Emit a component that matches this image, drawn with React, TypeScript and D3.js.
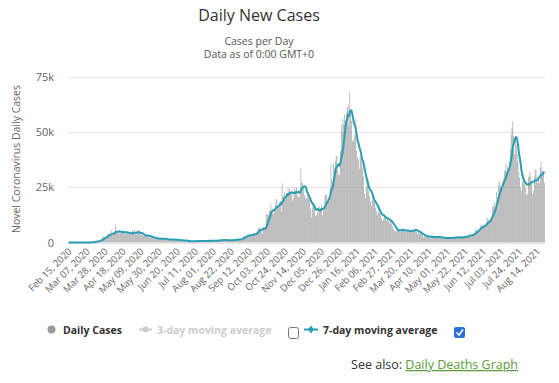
import React from 'react';
import * as d3 from 'd3';

// Daily new cases, Feb 15 2020 -> Aug 23 2021 (one array per month)
const feb2020 = [0,0,0,0,0,0,0,0,4,0,0,0,2,4,3];
const mar2020 = [3,13,11,34,30,48,43,67,48,46,50,52,207,264,330,152,407,676,643,714,1035,665,967,1427,1452,2129,2885,2546,2433,2619,3009];
const apr2020 = [3980,3900,4090,3440,5430,3500,3340,5050,4000,7990,4810,4860,3990,4830,4230,4250,5150,5080,5380,4300,3960,4100,4220,4960,4520,4110,3960,3680,3750,5550];
const may2020 = [4420,5700,3990,3670,4050,5620,5160,4280,3580,3570,3130,2980,3170,3280,2980,3170,3280,3250,2470,2220,2270,2410,2720,2210,1500,1840,1850,1740,1930,1780,1440];
const jun2020 = [1653,1871,1805,1650,1557,1650,1326,1205,1741,1003,1266,1541,1425,1514,1056,1279,1115,1218,1346,1295,1221,958,874,653,1118,1380,890,901,815,689];
const jul2020 = [829,576,544,624,516,352,581,630,512,642,820,650,530,650,538,687,827,762,580,445,798,560,769,688,767,1062,685,581,763,846,880];
const aug2020 = [744,758,743,893,950,871,758,1062,938,1148,1009,1441,1009,1218,1012,1040,713,1089,812,1182,1033,1288,1041,853,1184,1048,1522,1276,1108,1715,1406];
const sep2020 = [1295,1508,1735,1813,1940,2988,2948,2420,2659,3539,3497,3330,3497,3330,2621,3991,3395,4322,4422,3899,4368,4926,6178,6634,6874,6042,5693,4044,7143,7108];
const oct2020 = [6914,7143,12872,12594,12594,14542,14162,17540,13864,15166,12872,13972,17234,19724,18980,15650,16171,16982,18804,13883,26688,21242,20530,23012,19790,20890,20890,24701,23065,24405,21915];
const nov2020 = [23254,18950,20018,25177,24141,23287,24957,21350,20572,20412,22950,33470,27301,26860,24962,21363,20051,20207,19609,22915,20252,19875,15450,11299,15450,18213,17555,16022,12155,12330];
const dec2020 = [13430,16170,14879,16298,15539,17272,12282,14718,16578,20964,21672,21502,18447,20263,18450,25161,35383,28507,27052,35928,33364,36804,39237,39036,32725,30501,30501,41385,53135,50023,55892];
const jan2021 = [53285,57725,54990,58784,60916,62322,52618,68053,59937,54940,46169,45533,47525,48682,55761,41346,38598,37535,33355,38905,37892,40261,33552,30004,22195,20089,25308,28680,29079,23275,21088];
const feb2021 = [18607,16840,19202,20634,19114,18262,15845,14104,12364,13494,15144,13308,13308,10972,9765,10625,12718,12057,10406,9834,10641,9985,8489,9938,9985,8523,7434,6035];
const mar2021 = [5455,4712,5766,6573,6040,5177,5177,4712,5766,5926,6609,5534,5089,4618,5089,5294,5758,5303,4802,5303,5312,5342,5379,5605,6397,6187,4715,3862,4654,4040,4052];
const apr2021 = [4478,3402,3423,2297,2762,2379,3150,2589,3030,2874,2472,1730,2963,2491,2812,2596,2206,1882,2524,2729,2396,2678,2615,2061,1712,1946,2064,2166,2445,2381];
const may2021 = [1907,1649,1671,2357,2166,2490,2047,1770,1979,2613,2284,2657,2672,2193,1926,2027,1979,2412,2696,2874,2829,2235,1968,3240,2439,3180,3542,4182,3398,3240,3165];
const jun2021 = [3383,4330,5274,6238,5765,5341,5683,6048,7540,7393,8125,7738,7490,7673,7673,9055,11007,10476,10321,9284,10633,11625,16135,16703,15810,18270,14876,22868,20479,25606];
const jul2021 = [27989,27125,24885,24248,27334,28773,32548,32551,35707,31772,34471,31772,36660,42302,48553,51870,54674,48161,39950,46558,44104,39906,36389,31795,29173,24950,23511,27734,31117,29622,26144];
const aug2021 = [24470,21952,21691,29312,30215,31808,29612,26750,21967,23510,29612,33074,32700,29520,26750,28438,26852,33899,36572,32058,32253,31914,26887];

const monthlyCases = [feb2020, mar2020, apr2020, may2020, jun2020, jul2020, aug2020, sep2020, oct2020, nov2020, dec2020,
  jan2021, feb2021, mar2021, apr2021, may2021, jun2021, jul2021, aug2021];
const dailyCases: number[] = monthlyCases.flat();
const startDate = new Date(2020, 1, 15);
const tickEveryDays = 21;
const yTicks = [0, 25000, 50000, 75000];
const yTickLabels = ['0', '25k', '50k', '75k'];

const FONT = '"Open Sans", "DejaVu Sans", sans-serif';
const TEAL = '#2a9fb4';

export default function App() {
  const W = 559, H = 383;
  const left = 68, right = 545, top = 76.5, bottom = 242.5;
  const n = dailyCases.length;
  const x = d3.scaleLinear().domain([-0.5, n - 0.5]).range([left, right]);
  const y = d3.scaleLinear().domain([0, 75000]).range([bottom, top]);
  const step = (right - left) / n;
  const barW = step * 0.72;

  const avg7 = dailyCases.map((_, i) => d3.mean(dailyCases.slice(Math.max(0, i - 6), i + 1)) as number);
  const line = d3.line<number>().x((_, i) => x(i)).y((v) => y(v));

  const fmt = d3.timeFormat('%b %d, %Y');
  const tickIdx = d3.range(0, n, tickEveryDays);

  return (
    <div style={{ position: 'absolute', left: 0, top: 0 }}>
      <svg width={W} height={H} style={{ display: 'block', background: '#fff' }} fontFamily={FONT}>
        <rect width={W} height={H} fill="#fff" />
        <text x={259} y={21} textAnchor="middle" fontSize={16} fill="#333">Daily New Cases</text>
        <text x={259} y={45} textAnchor="middle" fontSize={10.5} fill="#555">Cases per Day</text>
        <text x={259} y={57.5} textAnchor="middle" fontSize={10.5} fill="#555">Data as of 0:00 GMT+0</text>

        {yTicks.map((t) => (
          <line key={'g' + t} x1={left} x2={right} y1={Math.round(y(t)) + 0.5} y2={Math.round(y(t)) + 0.5} stroke="#e6e6e6" />
        ))}
        {yTicks.map((t, k) => (
          <text key={'yl' + t} x={54} y={y(t) + 4} textAnchor="end" fontSize={11} fill="#666">{yTickLabels[k]}</text>
        ))}
        <text transform={`translate(20,159) rotate(-90)`} textAnchor="middle" fontSize={10.5} fill="#666">Novel Coronavirus Daily Cases</text>

        <g>
          {dailyCases.map((v, i) => (
            <rect key={i} x={x(i) - barW / 2} y={y(v)} width={barW} height={Math.max(0, bottom - y(v))} fill="#9a9a9a" />
          ))}
        </g>
        <path d={line(avg7) || ''} fill="none" stroke={TEAL} strokeWidth={2} strokeLinejoin="round" />

        {tickIdx.map((i) => (
          <text key={'xl' + i} transform={`translate(${x(i) + 4},${252}) rotate(-45)`} textAnchor="end" fontSize={9.6} fill="#666">
            {fmt(d3.timeDay.offset(startDate, i))}
          </text>
        ))}

        {/* Legend */}
        <g fontSize={10.5} fontWeight="bold">
          <circle cx={51.5} cy={329.5} r={4} fill="#999" />
          <text x={63} y={334} fill="#333">Daily Cases</text>
          <line x1={139} x2={152} y1={329.5} y2={329.5} stroke="#ccc" strokeWidth={2} />
          <circle cx={145.5} cy={329.5} r={3} fill="#ccc" />
          <text x={157} y={334} fill="#ccc">3-day moving average</text>
          <rect x={288.5} y={327.5} width={10} height={11} rx={2} fill="#fff" stroke="#767676" />
          <line x1={304} x2={318} y1={329.5} y2={329.5} stroke={TEAL} strokeWidth={2} />
          <path d="M311,325.5 L314,329.5 L311,333.5 L308,329.5 Z" fill={TEAL} />
          <text x={323} y={334} fill="#333">7-day moving average</text>
          <rect x={454} y={327} width={11} height={11} rx={2} fill="#2f6fd7" />
          <path d="M456.5,332.5 L459,335 L463,329.5" fill="none" stroke="#fff" strokeWidth={1.6} />
        </g>

        <text x={518} y={369} textAnchor="end" fontSize={12.5} fill="#333">
          See also: <tspan fill="#5b9a3b" textDecoration="underline">Daily Deaths Graph</tspan>
        </text>
      </svg>
    </div>
  );
}
